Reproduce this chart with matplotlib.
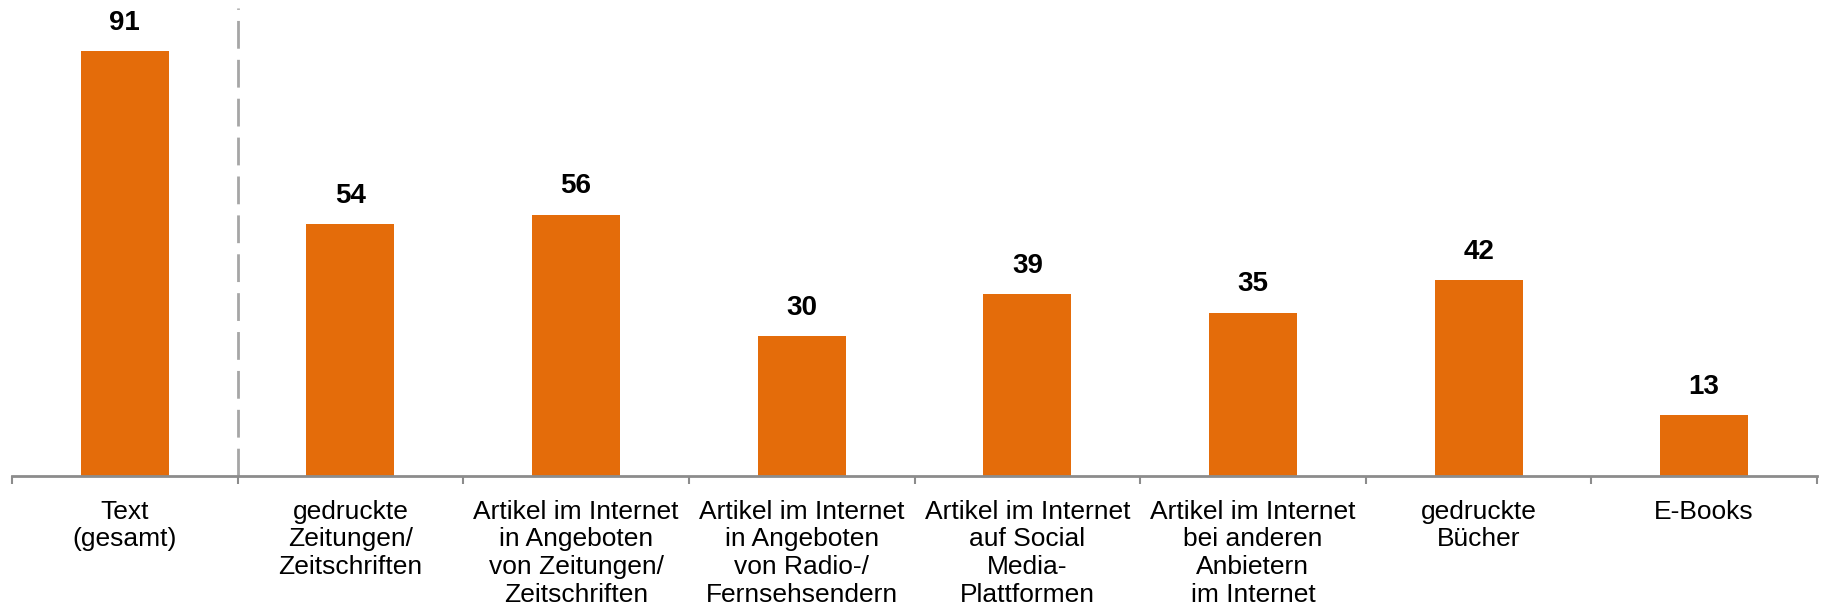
import matplotlib.pyplot as plt
import numpy as np

plt.rcParams['font.family'] = ['Liberation Sans', 'DejaVu Sans']

categories = ['Text\n(gesamt)',
              'gedruckte\nZeitungen/\nZeitschriften',
              'Artikel im Internet\nin Angeboten\nvon Zeitungen/\nZeitschriften',
              'Artikel im Internet\nin Angeboten\nvon Radio-/\nFernsehsendern',
              'Artikel im Internet\nauf Social\nMedia-\nPlattformen',
              'Artikel im Internet\nbei anderen\nAnbietern\nim Internet',
              'gedruckte\nBücher',
              'E-Books']
values = [91, 54, 56, 30, 39, 35, 42, 13]

fig = plt.figure(figsize=(18.22, 6.11), dpi=100)
ax = fig.add_axes([12 / 1822, 135 / 611, 1805 / 1822, 476 / 611])

x = np.arange(len(values))
bars = ax.bar(x, values, width=0.39, color='#E46C0A')

for xi, v in zip(x, values):
    ax.annotate(str(v), (xi, v), xytext=(0, 11), textcoords='offset points',
                ha='center', va='bottom', fontsize=20, fontweight='bold')

ax.axvline(0.5, ymin=0, ymax=0.983, color='#A6A6A6', lw=2, linestyle=(0, (10, 4)))

ax.set_xlim(-0.5, len(values) - 0.5)
ax.set_ylim(0, 102)
ax.set_yticks([])
ax.set_xticks(x)
ax.set_xticklabels(categories, fontsize=19, linespacing=1.2)
ax.set_xticks(np.arange(len(values) + 1) - 0.5, minor=True)
ax.tick_params(axis='x', which='major', length=0, pad=17)
ax.tick_params(axis='x', which='minor', length=6, width=1.5, color='#8C8C8C')

for side in ['top', 'right', 'left']:
    ax.spines[side].set_visible(False)
ax.spines['bottom'].set_color('#8C8C8C')
ax.spines['bottom'].set_linewidth(2)

plt.savefig('out.png', dpi=100)
